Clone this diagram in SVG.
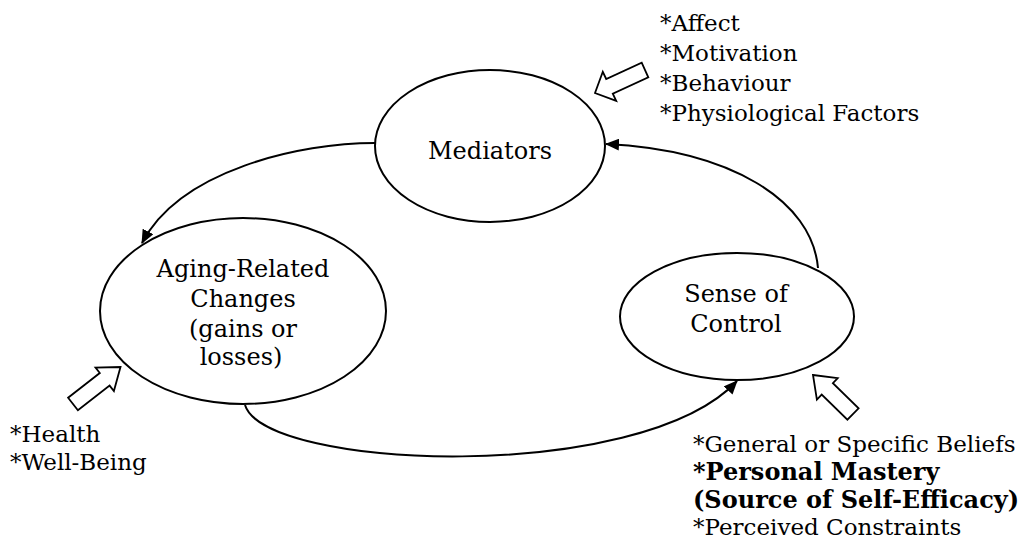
<svg xmlns="http://www.w3.org/2000/svg" width="1029" height="548" viewBox="0 0 1029 548">
<defs>
<marker id="ah" markerWidth="14" markerHeight="12" refX="13" refY="6" orient="auto" markerUnits="userSpaceOnUse">
<path d="M0,0 L14,6 L0,12 Z" fill="#000"/>
</marker>
<style>
.node{fill:#fff;stroke:#000;stroke-width:2}
.lbl{font-family:"DejaVu Serif","Liberation Serif",serif;font-size:23px;fill:#000}
.in{font-size:24px;text-anchor:middle}
.b{font-weight:bold;font-size:24px}
.conn{fill:none;stroke:#000;stroke-width:2}
.blk{fill:#fff;stroke:#000;stroke-width:1.8;stroke-linejoin:miter}
</style>
</defs>
<rect width="1029" height="548" fill="#fff"/>
<g id="connectors">
<path class="conn" d="M375,143 C300,143 180,170 142,243" marker-end="url(#ah)"/>
<path class="conn" d="M818,268 C812,200 730,150 606,144" marker-end="url(#ah)"/>
<path class="conn" d="M245,405 C265,470 640,485 737,381" marker-end="url(#ah)"/>
</g>
<g id="mediators">
<ellipse class="node" cx="490" cy="146" rx="115" ry="76"/>
<text class="lbl in" x="490" y="159">Mediators</text>
</g>
<g id="aging">
<ellipse class="node" cx="243" cy="311" rx="143" ry="93"/>
<text class="lbl in" x="243" y="277">Aging-Related</text>
<text class="lbl in" x="243" y="307">Changes</text>
<text class="lbl in" x="243" y="337">(gains or</text>
<text class="lbl in" x="241" y="365">losses)</text>
</g>
<g id="sense">
<ellipse class="node" cx="737" cy="316.5" rx="117" ry="63.5"/>
<text class="lbl in" x="736" y="302">Sense of</text>
<text class="lbl in" x="736" y="332">Control</text>
</g>
<g id="mediators-factors">
<polygon class="blk" points="595,93 602.8,71.8 606.2,79 641.7,62.7 648.3,77.3 612.8,93.6 616.2,100.8"/>
<text class="lbl" x="660" y="31">*Affect</text>
<text class="lbl" x="660" y="61">*Motivation</text>
<text class="lbl" x="660" y="91">*Behaviour</text>
<text class="lbl" x="660" y="121">*Physiological Factors</text>
</g>
<g id="aging-factors">
<polygon class="blk" points="120.5,367 113.9,391.1 109.6,385.6 77.9,410.3 68.1,397.7 99.8,373 95.5,367.5"/>
<text class="lbl" x="10" y="442">*Health</text>
<text class="lbl" x="10" y="470">*Well-Being</text>
</g>
<g id="control-factors">
<polygon class="blk" points="813,375 837.7,378.2 832.9,383.2 858.6,408.3 847.4,419.7 821.7,394.6 816.9,399.6"/>
<text class="lbl" x="693" y="452">*General or Specific Beliefs</text>
<text class="lbl b" x="693" y="480">*Personal Mastery</text>
<text class="lbl b" x="693" y="508">(Source of Self-Efficacy)</text>
<text class="lbl" x="693" y="535">*Perceived Constraints</text>
</g>
</svg>
